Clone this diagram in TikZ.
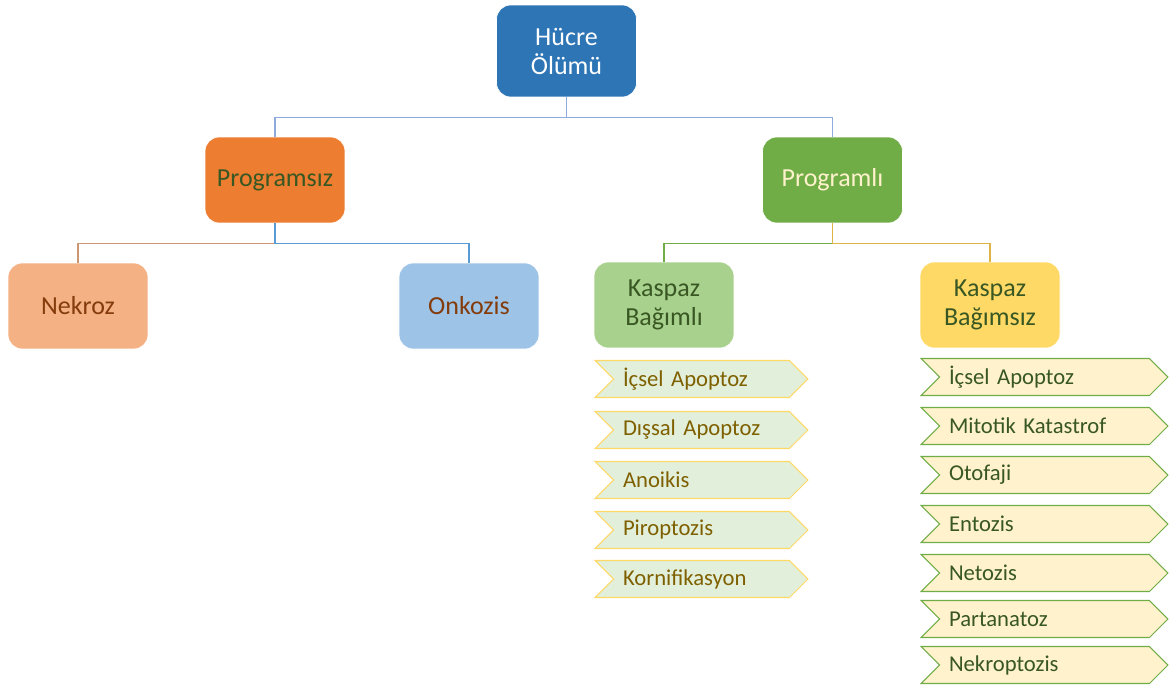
\documentclass[tikz,border=0pt]{standalone}
\usepackage{fontspec}
\setmainfont{Carlito}
\usepackage{tikz}
\usetikzlibrary{shapes.symbols,calc}
\definecolor{hcblue}{RGB}{46,117,182}
\definecolor{hcorange}{RGB}{237,125,49}
\definecolor{hcgreen}{RGB}{112,173,71}
\definecolor{hcsalmon}{RGB}{244,177,131}
\definecolor{hcsky}{RGB}{157,195,230}
\definecolor{hclgreen}{RGB}{169,209,142}
\definecolor{hcgold}{RGB}{255,217,102}
\definecolor{hcpalegreen}{RGB}{226,239,218}
\definecolor{hccream}{RGB}{255,242,204}
\definecolor{txgreen}{RGB}{56,87,35}
\definecolor{txbrown}{RGB}{132,60,12}
\definecolor{txolive}{RGB}{127,96,0}
\definecolor{txcream}{RGB}{255,242,204}
\definecolor{lnsteel}{RGB}{143,170,220}
\definecolor{lnblue}{RGB}{91,155,213}
\definecolor{lnbrown}{RGB}{205,150,115}
\definecolor{lngold}{RGB}{222,180,70}
\tikzset{
  cbox/.style={draw=white, rounded corners=8pt, fill=#1, font=\fontsize{14.8}{16.5}\selectfont,
               minimum width=2.8cm, minimum height=1.72cm, align=center, inner sep=2pt},
  chev/.style={shape=signal, signal from=west, signal to=east, signal pointer angle=90,
               draw=#1, line width=0.6pt, font=\fontsize{12.9}{15}\selectfont,
               minimum height=0.74cm, inner xsep=0pt, align=left},
  link/.style={draw=#1, line width=0.6pt},
}
\begin{document}
\begin{tikzpicture}[x=0.02cm, y=-0.02cm]
  \useasboundingbox (0,0) rectangle (1169,686);

  % Top levels
  \node[cbox=hcblue, text=white, minimum height=1.84cm] (root) at (566.5,51) {Hücre\\Ölümü};
  \node[cbox=hcorange, text=txgreen] (psiz) at (275,180) {Programsız};
  \node[cbox=hcgreen, text=txcream] (pli) at (832.5,180) {Programlı};

  \node[cbox=hcsalmon, text=txbrown] (nek) at (78,306) {Nekroz};
  \node[cbox=hcsky, text=txbrown] (onk) at (469,306) {Onkozis};
  \node[cbox=hclgreen, text=txgreen] (kbli) at (664,305) {Kaspaz\\Bağımlı};
  \node[cbox=hcgold, text=txgreen] (kbsiz) at (990,305) {Kaspaz\\Bağımsız};

  % Connectors
  \draw[link=lnsteel] (root.south) -- ++(0,20) -| (psiz.north);
  \draw[link=lnsteel] (root.south) -- ++(0,20) -| (pli.north);
  \coordinate (psizj) at ($(psiz.south)+(0,20)$);
  \coordinate (plij) at ($(pli.south)+(0,20)$);
  \draw[link=lnbrown] (psizj) -| (nek.north);
  \draw[link=lnblue] (psiz.south) -- (psizj) -| (onk.north);
  \draw[link=hcgreen] (plij) -| (kbli.north);
  \draw[link=lngold] (pli.south) -- (plij) -| (kbsiz.north);

  % Kaspaz bagimli list
  \foreach \lbl/\yy/\nm in {İçsel Apoptoz/379/a, Dışsal Apoptoz/430/b, Anoikis/480/c,
                            Piroptozis/530/d, Kornifikasyon/579/e}
    \node[chev=hcgold, fill=hcpalegreen, text=txolive, minimum width=4.26cm,
          text width=3.14cm] (li\nm) at (701.5,\yy) {\lbl};

  % Kaspaz bagimsiz list
  \foreach \lbl/\yy/\nm in {İçsel Apoptoz/377/a, Mitotik Katastrof/426/b, Otofaji/475/c,
                            Entozis/524/d, Netozis/573/e, Partanatoz/619/f, Nekroptozis/665/g}
    \node[chev=hcgreen, fill=hccream, text=txgreen, minimum width=4.94cm,
          text width=3.82cm] (ri\nm) at (1044.5,\yy) {\lbl};

\end{tikzpicture}
\end{document}
